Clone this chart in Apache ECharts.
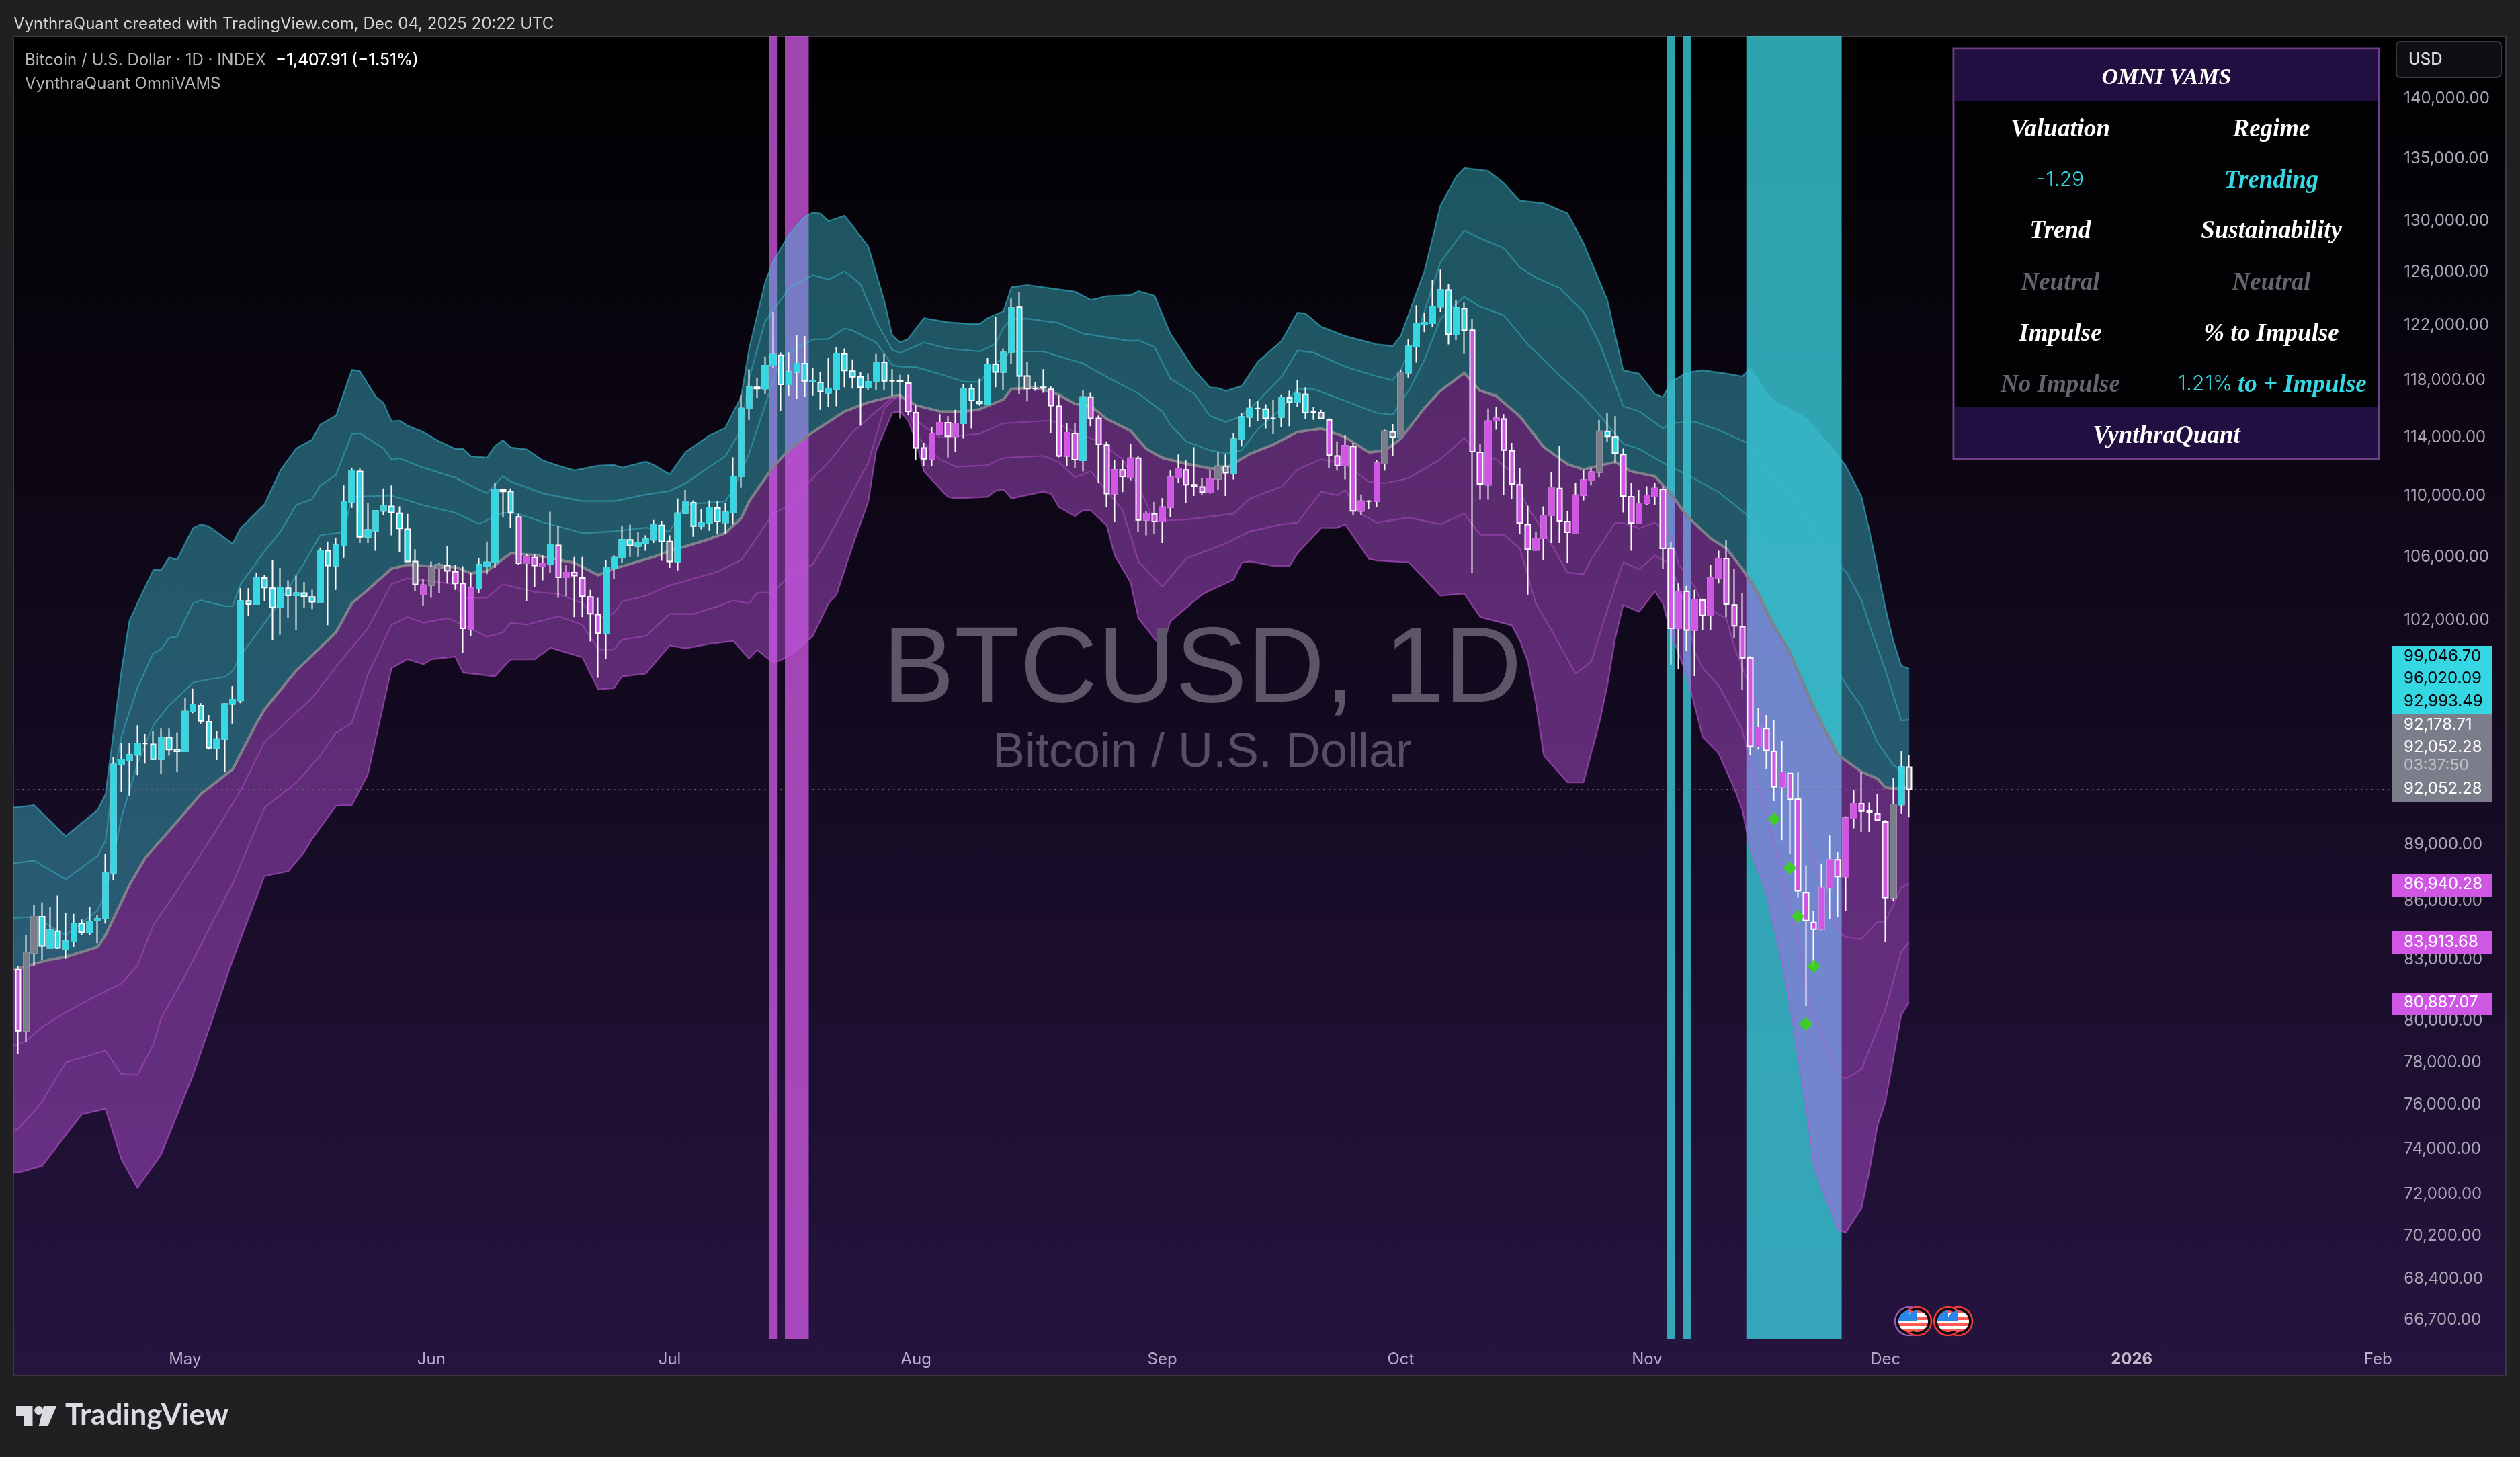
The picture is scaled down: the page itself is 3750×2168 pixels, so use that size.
<!DOCTYPE html>
<html><head><meta charset="utf-8">
<style>html,body{margin:0;padding:0;background:#201f21}#c{width:3750px;height:2168px}</style>
<script src="https://cdn.jsdelivr.net/npm/echarts@6/dist/echarts.min.js"></script>
</head><body><div id="c"></div>
<script>
// ---------- data: daily candles from Apr 10 2025 to Dec 4 2025 as [open, close, low, high]
const firstDay = '2025-04-10';
const candles = [
[82500,79500,78400,82700],[79500,83350,78950,84250],[83350,85200,82700,85800],[85200,83700,83000,85950],[83600,84500,83600,85700],
[84450,83600,83550,86300],[83550,83950,83050,85400],[83950,84850,83650,85350],[84850,84400,84250,85050],[84400,84950,84250,85700],
[85000,85100,83850,85300],[85100,87500,84850,88500],[87500,93450,87100,93850],[93450,93700,91900,94700],[93700,94000,91700,94700],
[94000,94650,92850,95700],[94650,94650,93500,95200],[94600,93750,93700,95400],[93750,95000,92900,95500],[95000,94300,93950,95500],
[94300,94200,93000,95300],[94200,96500,94200,97300],[96500,96900,96400,97850],[96850,95950,95800,97000],[95900,94400,94300,96300],
[94400,94900,93700,95400],[94900,96950,93000,97000],[96950,97200,95800,98000],[97150,103200,97000,104000],[103200,103000,102250,104000],
[103000,104700,103000,105000],[104650,104050,103200,104850],[104000,102800,100800,105800],[102800,104050,101100,105300],[104000,103550,102150,104500],
[103550,103700,101380,104800],[103700,103500,102800,104400],[103450,103150,102700,103900],[103150,106400,103150,106600],[106400,105450,101700,107000],
[105450,106750,103900,107200],[106750,109600,105950,110700],[109600,111700,109200,111900],[111650,107300,106900,111900],[107300,107750,106900,109500],
[107700,109000,106400,109000],[109000,109350,108750,110500],[109300,108900,107400,110700],[108850,107850,106300,109300],[107800,105700,105700,108800],
[105700,104250,103800,106500],[103600,104200,102900,104600],[104200,105300,103400,105700],[105250,105500,103700,105600],[105450,105100,104300,106700],
[105050,104300,103900,105500],[104300,101500,100000,105400],[101450,104000,101000,105000],[104000,105500,103700,105900],[105400,105650,104900,107000],
[105650,110400,105300,110900],[110400,110300,108600,110450],[110300,108900,107900,110500],[108600,105600,105500,108800],[105600,106000,103200,106200],
[105950,105450,104100,106200],[105400,105550,104500,106100],[105550,106800,105000,108950],[106750,104700,103400,108000],[104700,105000,103500,105500],
[105000,104800,102200,106000],[104650,103500,102200,106000],[103450,102400,100700,103900],[102350,101200,98500,103400],[101200,105300,99650,105800],
[105300,105950,104600,106100],[105950,107100,105600,108000],[107100,106750,106000,108100],[106700,106900,106000,107600],[106900,107150,106400,107400],
[107100,108100,106900,108400],[108050,107000,105750,108350],[107000,105700,105300,107400],[105700,108850,105140,109830],[108850,109600,108800,110400],
[109550,108000,107300,109700],[108000,108200,107800,109100],[108200,109200,107700,109700],[109200,108300,107500,109650],[108250,108900,107500,109500],
[108900,111300,108100,112600],[111300,116000,110550,116950],[116000,117500,115200,118800],[117500,117400,116750,118150],[117400,119050,117000,119700],
[119050,119850,118900,123000],[119800,117700,115800,120000],[117700,118600,116900,120000],[118600,119200,116650,121300],[119200,117950,116800,121200],
[117900,117950,116900,118900],[117850,117200,115900,118600],[117100,117400,116100,119600],[117350,119900,116150,120400],[119900,118700,117500,120300],
[118650,118250,117400,119500],[118250,117500,114800,118600],[117500,117900,117300,118500],[117900,119300,117300,119900],[119300,117950,117300,119900],
[117950,117950,116900,118800],[117950,117900,115300,118400],[117800,115800,115500,118400],[115700,113250,112400,116200],[113250,112500,112000,113600],
[112500,114200,112000,114700],[114200,115000,114100,115600],[115000,114050,112600,115450],[114050,114900,113000,115900],[114950,117400,113900,117700],
[117400,116550,114600,117700],[116500,116350,116200,118100],[116300,119150,116300,119600],[119150,118600,117500,122650],[118600,120000,117300,120300],
[120000,123300,119200,124000],[123350,118300,117000,124500],[118300,117400,116500,119300],[117400,117400,117250,117900],[117500,117450,117100,118800],
[117350,116200,114300,117600],[116150,112700,112600,116900],[112700,114300,112000,115000],[114250,112450,111900,115000],[112400,116800,111650,117300],
[116800,115300,114750,117100],[115300,113500,110900,115500],[113450,110150,109260,113700],[110150,111750,108300,112400],[111750,111300,110250,112400],
[111250,112550,111050,113550],[112550,108400,107600,112700],[108400,108800,107400,109000],[108800,108300,107500,109600],[108300,109250,106900,109850],
[109250,111250,108600,111700],[111250,111800,110900,112800],[111750,110750,109500,112400],[110750,110650,110000,113300],[110600,110250,110050,111200],
[110250,111150,110150,111700],[111150,112000,110400,113000],[112000,111550,110000,112800],[111500,113850,111100,114300],[113850,115400,113350,115700],
[115400,116000,114700,116700],[116000,116000,115100,116500],[115950,115300,114600,116300],[115300,115300,114200,116600],[115400,116750,114700,116950],
[116750,116450,114750,117250],[116450,117050,116100,118000],[117000,115700,115250,117500],[115750,115750,115200,116100],[115700,115300,115250,115900],
[115200,112750,111900,115300],[112700,112050,111700,113700],[112050,113400,111100,114100],[113350,109000,108700,113600],[109000,109650,108700,110100],
[109650,109650,109150,109700],[109650,112200,109250,112400],[112200,114400,111700,114500],[114350,114000,112700,114900],[114000,118550,114000,118700],
[118550,120450,118200,121000],[120450,122100,119270,123500],[122100,122200,121500,122900],[122150,123400,121900,125400],[123400,124650,123000,126200],
[124650,121350,120600,125100],[121350,123300,120900,123900],[123250,121650,119900,123700],[121650,113000,104950,122500],[112950,110800,109750,113500],
[110750,115100,109750,116000],[115150,115300,114500,116100],[115250,113100,110050,115600],[113050,110800,109800,113600],[110750,108200,107500,111900],
[108100,106500,103600,109350],[106450,107200,106500,107650],[107200,108700,105800,109300],[108700,110550,106900,111600],[110500,108350,106900,113400],
[108300,107600,105600,109000],[107550,110050,107550,110900],[110050,111050,109700,111750],[111050,111600,110700,111900],[111600,114400,111250,115200],
[114400,114050,113650,115700],[114000,112900,112250,115450],[112800,110000,108900,113200],[109950,108200,106400,110900],[108200,109500,108300,110400],
[109500,110000,109400,110650],[110000,110500,109400,110900],[110450,106550,105250,110650],[106550,101500,99300,107000],[101500,103800,99000,104300],
[103800,101400,100100,104150],[101400,103250,98600,103900],[103250,102300,101400,103350],[102300,104650,101400,105500],[104650,105900,104300,106400],
[105900,103000,102200,107100],[102950,101650,100900,105250],[101600,99700,97800,103700],[99700,94490,94000,99800],[94490,95550,94300,96700],
[95500,94250,93200,96300],[94200,92200,91400,96000],[92200,93000,89250,94800],[92950,91500,88500,92950],[91500,86550,86200,93000],
[86450,85000,80700,87900],[84900,84550,82700,85500],[84550,86700,84500,88000],[86700,88200,85100,89500],[88200,87300,85200,88600],
[87300,90450,85500,90550],[90450,91250,89900,92000],[91250,90850,89700,93000],[90850,90800,89700,91300],[90700,90350,90350,91800],
[90250,86200,83900,90350],[86200,91200,86000,92700],[91200,93300,90700,94200],[93300,92052.28,90500,94000]
];
// band lines as [day index counted from firstDay, price], read at their turning points
const upper3 = [[-1,91050],[0,91060],[2,91170],[6,89470],[10,90910],[11,91780],[12,95280],[13,98910],[14,101970],[15,103050],[17,105160],[18,105160],[19,105970],[20,105820],[22,107870],[23,108120],[24,107990],[27,106860],[28,107870],[31,109430],[33,111720],[35,113220],[37,113830],[38,114860],[40,115500],[42,118760],[43,118660],[45,116850],[46,116370],[47,115100],[48,115150],[49,114800],[51,114350],[53,113700],[55,113190],[56,113190],[57,112680],[59,112590],[60,113370],[61,113790],[62,113280],[64,113150],[66,112400],[68,112040],[70,111720],[73,112040],[75,112090],[76,111900],[79,112320],[80,112090],[82,111450],[84,112970],[87,114110],[89,114640],[91,116840],[92,120290],[94,125210],[95,126820],[97,128900],[99,130330],[100,130640],[101,130570],[102,129970],[104,130400],[105,129620],[107,127980],[108,125900],[109,123850],[110,121290],[111,120740],[112,121000],[114,122540],[117,122240],[120,122100],[121,122100],[122,122540],[124,123050],[125,124860],[127,125020],[133,124530],[135,123900],[137,124190],[140,124260],[141,124570],[143,124230],[145,121400],[148,118770],[150,117490],[151,117450],[152,117240],[154,117600],[156,119330],[159,120850],[161,122950],[162,122890],[164,121900],[167,121220],[171,120600],[173,120480],[174,121220],[177,126110],[179,131200],[181,133540],[182,134230],[185,134000],[187,132990],[189,131600],[192,131390],[195,130580],[197,128240],[200,123900],[202,118720],[204,118480],[206,117020],[207,116790],[208,117870],[210,118550],[212,118720],[215,118480],[217,118280],[218,118850],[219,118000],[220,117160],[221,116500],[223,115900],[225,115340],[226,114650],[228,113430],[230,112040],[232,109960],[233,107680],[234,105240],[235,102780],[236,100730],[237,99220],[238,99046.70]];
const upper2 = [[-1,88000],[0,88050],[2,88150],[6,87160],[10,88400],[11,89230],[12,92640],[13,95050],[15,97890],[17,99980],[18,100210],[19,100920],[20,100990],[22,103050],[23,103240],[26,102880],[27,102880],[28,104260],[31,106360],[33,107630],[35,109390],[37,109780],[38,110680],[40,111410],[42,114210],[43,114250],[46,113220],[47,112450],[48,112540],[51,111900],[55,111220],[57,110680],[59,110170],[61,111330],[62,110970],[66,110170],[71,109650],[75,109650],[79,110090],[82,110330],[84,110840],[87,111960],[89,112670],[90,113600],[91,114540],[92,118130],[94,122280],[97,124760],[100,125780],[102,125440],[104,126080],[106,125100],[108,122280],[110,120190],[111,119970],[114,120740],[117,120300],[121,120080],[123,120630],[124,121830],[125,122460],[127,122500],[131,122170],[134,121400],[136,121220],[140,120850],[141,120900],[143,120410],[145,118130],[148,117050],[150,115470],[152,115050],[154,115470],[156,116500],[159,118240],[161,120150],[163,120000],[167,118980],[171,118280],[173,118000],[174,118720],[176,121220],[179,126770],[182,129240],[184,128630],[187,127850],[189,126370],[191,125590],[194,124800],[197,123000],[199,120720],[200,119220],[202,116160],[204,115800],[207,114600],[208,114960],[211,115080],[214,114480],[218,113500],[219,112540],[221,111020],[223,109960],[225,108640],[227,106870],[229,105520],[230,105080],[232,103250],[233,101690],[235,98960],[237,95980],[238,96020.09]];
const upper1 = [[-1,85100],[0,85150],[2,85190],[6,84250],[10,85530],[11,86350],[12,88400],[13,90490],[15,93480],[17,95700],[19,96860],[22,98200],[23,98320],[26,98550],[27,98900],[28,99850],[30,101150],[33,103170],[36,105620],[38,107400],[41,107600],[42,109890],[43,109960],[47,110020],[51,109380],[55,108880],[58,108150],[61,108880],[63,108800],[66,108270],[71,107540],[75,107660],[79,107900],[82,107650],[84,109430],[89,109630],[90,110430],[92,112880],[94,116220],[96,119640],[98,120290],[100,120960],[102,121000],[104,121780],[105,121620],[108,120740],[110,119100],[111,118990],[113,118950],[116,118450],[119,117910],[121,117870],[123,119210],[125,120080],[129,120080],[134,119210],[137,118240],[141,117050],[144,115790],[145,114850],[147,113700],[150,113080],[152,112880],[154,113080],[156,114540],[159,116000],[161,117380],[163,117380],[167,116530],[171,115680],[173,115560],[175,117250],[177,119480],[179,122480],[182,124140],[184,123380],[187,122750],[190,120600],[194,118360],[197,116770],[199,115560],[202,113530],[204,113190],[207,112240],[210,111430],[214,110260],[218,108570],[220,106370],[223,104360],[226,101410],[230,98110],[232,96800],[234,94720],[236,93410],[237,93100],[238,92993.49]];
const trendLine = [[-1,82500],[0,82550],[2,82800],[4,83000],[6,83150],[10,83650],[11,84250],[14,86850],[16,88300],[19,89760],[23,91790],[27,93180],[30,95820],[31,96620],[35,98930],[37,99850],[40,101250],[42,103050],[44,103900],[47,105250],[49,105500],[52,105400],[55,105350],[57,104950],[59,105090],[62,106240],[65,106120],[68,105820],[70,105620],[73,104830],[75,105250],[80,106000],[82,106390],[84,106680],[87,107160],[89,107550],[91,108530],[92,109630],[95,111950],[97,113090],[100,114330],[104,115790],[107,116430],[110,116850],[111,116900],[113,116220],[116,115790],[119,115790],[121,115940],[124,116640],[125,117380],[128,117490],[131,116960],[133,116320],[135,116170],[137,115270],[140,114430],[142,113180],[144,112570],[147,112170],[150,111850],[152,111850],[155,112840],[158,113490],[161,114350],[164,114590],[167,114000],[170,112950],[172,113060],[174,113880],[177,116040],[179,117250],[182,118530],[184,117250],[186,116880],[189,115440],[192,113310],[195,112130],[197,111780],[201,112290],[203,111650],[206,111310],[208,110150],[210,108680],[213,107200],[215,106550],[217,105230],[219,103680],[220,102600],[221,101650],[223,100000],[226,96730],[228,94890],[229,94000],[232,93040],[234,92650],[235,92150],[236,92100],[237,92100],[238,92178.71]];
const lower1 = [[-1,78700],[0,78850],[1,79000],[3,79670],[6,80400],[9,81030],[13,81820],[15,82700],[17,84760],[20,86550],[25,89850],[28,91990],[31,94720],[37,97310],[40,99150],[44,101500],[47,104260],[49,104630],[53,104380],[55,104260],[56,103410],[59,103410],[61,104260],[65,103770],[68,103650],[71,103050],[73,102090],[75,102450],[76,103170],[79,103530],[82,104180],[88,105040],[91,105810],[93,107260],[95,108840],[97,109340],[99,110640],[102,112270],[105,114330],[108,115790],[110,116740],[112,116640],[113,115160],[116,113970],[121,114220],[124,114950],[130,115160],[133,114330],[136,113700],[139,112470],[141,110640],[143,108340],[147,108430],[153,108820],[155,109830],[159,110610],[161,111770],[164,112480],[167,112120],[170,110960],[172,110840],[175,111190],[179,112480],[182,113930],[184,112720],[186,112480],[188,111540],[190,109240],[192,107660],[195,105000],[197,104890],[198,105880],[201,108220],[202,108220],[204,107850],[206,108250],[208,107380],[209,105520],[211,104100],[212,103000],[214,102380],[215,102080],[216,100350],[219,96670],[220,95570],[225,89490],[227,86710],[229,84510],[230,84150],[232,84070],[234,84920],[235,84960],[237,86710],[238,86940.28]];
const lower2 = [[-1,74800],[0,74900],[3,76130],[5,77380],[6,77990],[11,78540],[13,77440],[15,77390],[17,78810],[18,80110],[21,82200],[24,84550],[27,86950],[31,91030],[35,92420],[38,93940],[40,95280],[42,95830],[44,98680],[47,101730],[49,102200],[51,101850],[54,102130],[56,101730],[59,100980],[61,101250],[62,101850],[64,101730],[68,102250],[71,101730],[73,100210],[75,100210],[76,100800],[79,101030],[82,102390],[85,102390],[88,102860],[90,103230],[92,103050],[93,103710],[95,103750],[97,104760],[100,105520],[102,107260],[104,109230],[107,112270],[109,116000],[111,117050],[112,116220],[113,114120],[116,112470],[118,111960],[122,112060],[124,112570],[129,112710],[131,112270],[133,111250],[135,111650],[139,109040],[141,105710],[144,104090],[147,105900],[150,106480],[152,106870],[155,107650],[159,108120],[161,108230],[164,110280],[166,110050],[167,110390],[169,108790],[171,108230],[175,108560],[179,108120],[182,108830],[184,107440],[187,107440],[189,106550],[191,103060],[193,101360],[196,98750],[198,99480],[200,102630],[202,105660],[204,105210],[206,106080],[208,105520],[210,102620],[211,100060],[212,99090],[214,98060],[217,95440],[218,93410],[220,90760],[222,87210],[224,84260],[225,81420],[226,80260],[229,77440],[230,77220],[232,77670],[234,79580],[235,80520],[237,83410],[238,83913.68]];
const lower3 = [[-1,72940],[0,72940],[3,73230],[8,75570],[11,75820],[13,73530],[15,72260],[18,73750],[22,77380],[24,79560],[27,82990],[31,87330],[34,87580],[36,88600],[37,89320],[40,91130],[42,91170],[44,92860],[47,99080],[49,99610],[51,99310],[52,99610],[55,99770],[56,98810],[60,98580],[62,99610],[65,99610],[67,100310],[71,99730],[73,97810],[75,97880],[76,98580],[79,98750],[82,100450],[84,100270],[87,100540],[90,100720],[92,99640],[93,100180],[95,99410],[96,99550],[98,100180],[100,101010],[102,103050],[103,103610],[105,106670],[107,109630],[108,113080],[110,115680],[111,115790],[112,115160],[113,113700],[114,111650],[117,109930],[118,109830],[122,109930],[123,110330],[124,110430],[125,109830],[129,110270],[130,110130],[131,109240],[133,108650],[134,109040],[135,109040],[137,108040],[138,106100],[140,104370],[141,102110],[144,100270],[145,101930],[149,103610],[153,104560],[154,105620],[155,105710],[158,105420],[160,105400],[161,106220],[164,107880],[166,107880],[167,108120],[170,105870],[171,105760],[175,105650],[179,103530],[182,103660],[184,102200],[188,101680],[189,100740],[190,99480],[191,97020],[192,93970],[195,92440],[197,92440],[199,95830],[200,98040],[201,100890],[202,102950],[204,102520],[206,103800],[207,103040],[208,101210],[210,98650],[212,95030],[214,94090],[216,92080],[217,90900],[218,88720],[220,86470],[222,82820],[223,80730],[225,76000],[226,73240],[229,70470],[230,70330],[232,71380],[233,73030],[234,75040],[235,76140],[237,80270],[238,80887.07]];
// signal days, candle colour regimes, and green dots [day index, price]
const magentaSignalDays = [95, 97, 98, 99];
const tealSignalDays = [208, 210, 218, 219, 220, 221, 222, 223, 224, 225, 226, 227, 228, 229];
const tealDayRanges = [[3,49],[58,62],[67,67],[74,81],[83,111],[119,126],[134,134],[153,163],[175,182],[200,201],[237,237]];
const greyDays = [1,2,50,52,53,54,82,127,151,152,164,172,173,174,199,236,238];
const greenDots = [[221,90400],[223,87760],[224,85220],[226,82660],[225,79830]];
const lastClose = 92052.28;
const priceTicks = [140000,135000,130000,126000,122000,118000,114000,110000,106000,102000,89000,86000,83000,80000,78000,76000,74000,72000,70200,68400,66700];
const monthTicks = {'2025-05-01':'May','2025-06-01':'Jun','2025-07-01':'Jul','2025-08-01':'Aug','2025-09-01':'Sep','2025-10-01':'Oct','2025-11-01':'Nov','2025-12-01':'Dec','2026-01-01':'2026','2026-02-01':'Feb'};
const priceTags = [['99,046.70',977,'t'],['96,020.09',1010,'t'],['92,993.49',1044,'t'],['92,178.71',1079,'g'],['92,052.28',1112,'g'],['92,052.28',1174,'g'],['86,940.28',1316,'m'],['83,913.68',1402,'m'],['80,887.07',1492,'m']];
const tableRows = [
 ['Valuation',193,'#ffffff','Regime','#ffffff'],
 ['Trend',344.5,'#ffffff','Sustainability','#ffffff'],
 ['Neutral',421,'#66646b','Neutral','#66646b'],
 ['Impulse',497,'#ffffff','% to Impulse','#ffffff'],
 ['No Impulse',573,'#66646b','','#66646b']
];

// ---------- scales
const OFFSET = 1, COUNT = 301, BAND = 11.824;
const DAY = 86400000;
const categories = [];
for (let k = 0; k < COUNT; k++) categories.push(new Date(Date.parse(firstDay) + (k - OFFSET) * DAY).toISOString().slice(0, 10));
const gridLeft = 27 - (OFFSET + 0.5) * BAND, gridTop = 54, gridBottomY = 1992;
const TEAL = '#35d7e2', MAG = '#cf57e3', GREY = '#7c7d8a';
const isTeal = i => tealDayRanges.some(r => i >= r[0] && i <= r[1]);
const fillOf = i => greyDays.includes(i) ? GREY : isTeal(i) ? TEAL : MAG;

const sparse = arr => { const d = new Array(COUNT).fill(null); arr.forEach(p => d[p[0] + OFFSET] = p[1]); return d; };
const lineSeries = (name, arr, color, width, z) => ({ name, type: 'line', data: sparse(arr), connectNulls: true, showSymbol: false, symbol: 'none', silent: true, z, animation: false, lineStyle: { color, width }, clip: true });
const fillSeries = (upper, lower, fill) => ({
  type: 'custom', silent: true, z: 2, clip: true, animation: false, data: [[OFFSET, upper[0][1]]], encode: { x: 0, y: 1 },
  renderItem: (p, api) => {
    const pts = [];
    upper.forEach(q => pts.push(api.coord([q[0] + OFFSET, q[1]])));
    lower.slice().reverse().forEach(q => pts.push(api.coord([q[0] + OFFSET, q[1]])));
    return { type: 'polygon', shape: { points: pts }, style: { fill } };
  }
});
const TOPVAL = 145403, BOTVAL = 65943;
// consecutive signal days merge into one block so that no seams show between them
const signalBlocks = (days, color) => {
  const runs = [];
  days.forEach(d => { const r = runs[runs.length - 1]; if (r && r[1] === d - 1) r[1] = d; else runs.push([d, d]); });
  return {
    type: 'custom', silent: true, z: 1, clip: true, animation: false,
    data: runs.map(r => [r[0] + OFFSET, r[1] + OFFSET, TOPVAL]), encode: { x: [0, 1], y: 2 },
    renderItem: (p, api) => {
      const a = api.coord([api.value(0), TOPVAL]), b = api.coord([api.value(1), BOTVAL]), half = api.size([1, 0])[0] / 2;
      return { type: 'rect', shape: { x: a[0] - half, y: a[1], width: b[0] - a[0] + 2 * half, height: b[1] - a[1] }, style: { fill: color } };
    }
  };
};

const allCandles = categories.map((c, k) => {
  const q = candles[k - OFFSET]; if (!q) return '-';
  const f = fillOf(k - OFFSET);
  return { value: q, itemStyle: { color: f, color0: f, borderColor: '#ffffff', borderColor0: '#ffffff', borderColorDoji: '#ffffff' } };
});
const upBodies = categories.map((c, k) => {
  const q = candles[k - OFFSET]; if (!q || q[1] <= q[0]) return '-';
  const f = fillOf(k - OFFSET);
  return { value: [q[0], q[1], q[0], q[1]], itemStyle: { color: f, color0: f, borderColor: f, borderColor0: f, borderColorDoji: f } };
});

// ---------- page furniture
const SANS = 'Inter, "Noto Sans", sans-serif', SCRIPT = '"Liberation Serif", serif';
const txt = (text, x, y, size, fill, extra) => ({ type: 'text', z: 60, x, y, silent: true, style: Object.assign({ text, fill, font: `${size}px ${SANS}`, textAlign: 'left', textVerticalAlign: 'middle' }, extra || {}) });
const script = (text, x, y, fill, size) => txt(text, x, y, size || 37, fill, { font: `italic bold ${size || 37}px ${SCRIPT}`, textAlign: 'center' });
const rect = (x, y, w, h, fill, z, extra) => ({ type: 'rect', z, silent: true, shape: Object.assign({ x, y, width: w, height: h }, (extra && extra.shape) || {}), style: Object.assign({ fill }, (extra && extra.style) || {}) });

const flag = (cx, cy, ring) => [
  { type: 'circle', z: 40, shape: { cx, cy, r: 21 }, style: { fill: '#0a0a0f', stroke: ring, lineWidth: 2.5 } },
  { type: 'circle', z: 41, shape: { cx, cy, r: 16 }, style: { fill: { type: 'linear', x: 0, y: 0, x2: 0, y2: 1, colorStops: [
      { offset: 0, color: '#ff5a55' }, { offset: .14, color: '#ff5a55' }, { offset: .14, color: '#ffffff' }, { offset: .29, color: '#ffffff' },
      { offset: .29, color: '#ff5a55' }, { offset: .43, color: '#ff5a55' }, { offset: .43, color: '#ffffff' }, { offset: .57, color: '#ffffff' },
      { offset: .57, color: '#ff5a55' }, { offset: .71, color: '#ff5a55' }, { offset: .71, color: '#ffffff' }, { offset: .86, color: '#ffffff' },
      { offset: .86, color: '#ff5a55' }, { offset: 1, color: '#ff5a55' }] } } },
  { type: 'sector', z: 42, shape: { cx, cy, r: 16, r0: 0, startAngle: Math.PI, endAngle: Math.PI * 1.5 }, style: { fill: '#2a86e8' } }
];

const graphics = [
  // pane
  rect(20, 54, 3709, 1993, { type: 'linear', x: 0, y: 0, x2: 0, y2: 1, colorStops: [{ offset: 0, color: '#000000' }, { offset: 1, color: '#26143f' }] }, -10, { style: { stroke: '#38373b', lineWidth: 2 } }),
  // watermark
  txt('BTCUSD, 1D', 1789, 1000, 160, '#5d5568', { font: '160px "Liberation Sans", sans-serif', textAlign: 'center' }),
  txt('Bitcoin / U.S. Dollar', 1789, 1121, 72, '#574f63', { font: '72px "Liberation Sans", sans-serif', textAlign: 'center' }),
  // left mask
  rect(0, 40, 19, 2030, '#201f21', 100),
  // header text
  txt('VynthraQuant created with TradingView.com, Dec 04, 2025 20:22 UTC', 20, 36, 24, '#d3d2d5'),
  txt('Bitcoin / U.S. Dollar · 1D · INDEX', 37, 90, 24, '#b6b4b9'),
  txt('−1,407.91 (−1.51%)', 410, 90, 24, '#ffffff', { font: `500 24px ${SANS}` }),
  txt('VynthraQuant OmniVAMS', 37, 125, 24, '#b6b4b9'),
  // USD button
  { type: 'rect', z: 60, shape: { x: 3566, y: 62, width: 156, height: 53, r: 6 }, style: { fill: '#100e14', stroke: '#3b3840', lineWidth: 2 } },
  txt('USD', 3584, 89, 24, '#dcdce0', { font: `500 24px ${SANS}` }),
  // table
  rect(2907, 72, 633, 611, '#020104', 50, { style: { stroke: '#6d4089', lineWidth: 3 } }),
  rect(2909, 74, 629, 76, '#200f40', 51),
  rect(2909, 606, 629, 75, '#200f40', 51),
  script('OMNI VAMS', 3224, 116, '#ffffff', 34),
  script('VynthraQuant', 3224, 649, '#ffffff', 37),
  txt('-1.29', 3066, 268, 30, TEAL, { textAlign: 'center', font: `300 30px ${SANS}` }),
  script('Trending', 3380, 269, TEAL),
  txt('1.21%', 3322, 572, 31, TEAL, { textAlign: 'right', font: `300 31px ${SANS}` }),
  txt('to + Impulse', 3330, 573, 37, TEAL, { font: `italic bold 37px ${SCRIPT}` }),
  // price tags
  rect(3560, 961, 148, 102, TEAL, 61),
  rect(3560, 1063, 148, 130, '#7c7d8a', 61),
  rect(3560, 1300, 148, 34, MAG, 61),
  rect(3560, 1386, 148, 34, MAG, 61),
  rect(3560, 1477, 148, 34, MAG, 61),
  // logo
  { type: 'polygon', z: 60, shape: { points: [[24, 2092], [48.5, 2092], [48.5, 2122], [36, 2122], [36, 2107], [24, 2107]] }, style: { fill: '#dcdbdf' } },
  { type: 'circle', z: 60, shape: { cx: 57.7, cy: 2098.5, r: 6.5 }, style: { fill: '#dcdbdf' } },
  { type: 'polygon', z: 60, shape: { points: [[65, 2092], [84.2, 2092], [71.4, 2122], [57.7, 2122]] }, style: { fill: '#dcdbdf' } },
  txt('TradingView', 97, 2106, 44, '#dcdbdf', { font: '700 44px Lato, Inter, sans-serif' })
];
tableRows.forEach(r => { graphics.push(script(r[0], 3066, r[1], r[2])); if (r[3]) graphics.push(script(r[3], 3380, r[1], r[4])); });
priceTags.forEach(t => graphics.push(Object.assign(txt(t[0], 3577, t[1], 24, t[2] === 't' ? '#04050a' : '#ffffff'), { z: 62 })));
graphics.push(Object.assign(txt('03:37:50', 3577, 1139, 23, '#c2c2c8'), { z: 62 }));
graphics.push(...flag(2841, 1966, '#9a59c0'), ...flag(2853, 1966, '#f23b3b'), ...flag(2914, 1966, '#f23b3b'), ...flag(2899, 1966, '#f23b3b'));

const chart = echarts.init(document.getElementById('c'), null, { renderer: 'canvas', width: 3750, height: 2168 });
chart.setOption({
  animation: false,
  backgroundColor: '#201f21',
  textStyle: { fontFamily: SANS },
  grid: { left: gridLeft, top: gridTop, width: COUNT * BAND, height: gridBottomY - gridTop, containLabel: false },
  xAxis: {
    type: 'category', data: categories, boundaryGap: true,
    axisLine: { show: false }, axisTick: { show: false }, splitLine: { show: false },
    axisLabel: {
      interval: (idx, val) => monthTicks[val] !== undefined, margin: 19, color: '#b5aec6', fontSize: 24, fontFamily: SANS, hideOverlap: false,
      formatter: val => { const m = monthTicks[val]; return m === '2026' ? '{b|2026}' : (m || ''); },
      rich: { b: { fontWeight: 700, fontSize: 24, color: '#c0bacb', fontFamily: SANS } }
    }
  },
  yAxis: {
    type: 'log', logBase: Math.E, min: BOTVAL, max: TOPVAL, position: 'right',
    axisLine: { show: false }, splitLine: { show: false },
    axisTick: { show: false, customValues: priceTicks },
    axisLabel: { customValues: priceTicks, margin: 9, padding: [6, 0, 0, 0], color: '#aaa5b5', fontSize: 24, fontFamily: SANS, showMinLabel: true, showMaxLabel: true, hideOverlap: false,
      formatter: v => Number(v).toLocaleString('en-US', { minimumFractionDigits: 2, maximumFractionDigits: 2 }) }
  },
  graphic: { elements: graphics },
  series: [
    signalBlocks(magentaSignalDays, 'rgba(200,85,220,0.8)'),
    signalBlocks(tealSignalDays, 'rgba(57,204,218,0.8)'),
    fillSeries(upper3, trendLine, 'rgba(65,200,220,0.42)'),
    fillSeries(trendLine, lower3, 'rgba(200,90,235,0.42)'),
    lineSeries('Upper 3', upper3, 'rgba(55,185,205,0.6)', 2.2, 3),
    lineSeries('Upper 2', upper2, 'rgba(55,185,205,0.5)', 2.2, 3),
    lineSeries('Upper 1', upper1, 'rgba(55,185,205,0.5)', 2.2, 3),
    lineSeries('Lower 1', lower1, 'rgba(190,85,215,0.45)', 2.2, 3),
    lineSeries('Lower 2', lower2, 'rgba(190,85,215,0.45)', 2.2, 3),
    lineSeries('Lower 3', lower3, 'rgba(190,85,215,0.6)', 2.2, 3),
    lineSeries('Trend', trendLine, '#7f808a', 4, 3),
    { name: 'BTCUSD', type: 'candlestick', data: allCandles, barWidth: 8, z: 5, silent: true, animation: false,
      itemStyle: { borderWidth: 2 },
      markLine: { silent: true, symbol: 'none', animation: false, label: { show: false }, data: [{ yAxis: lastClose }], lineStyle: { color: '#6f6b78', type: [2, 6], width: 2 } } },
    { name: 'BTCUSD up', type: 'candlestick', data: upBodies, barWidth: 8, z: 6, silent: true, animation: false, itemStyle: { borderWidth: 2 } },
    { name: 'Signals', type: 'scatter', data: greenDots.map(p => [p[0] + OFFSET, p[1]]), symbol: 'diamond', symbolSize: 20, z: 7, silent: true, animation: false, itemStyle: { color: '#33dd00' } }
  ]
});
</script></body></html>
